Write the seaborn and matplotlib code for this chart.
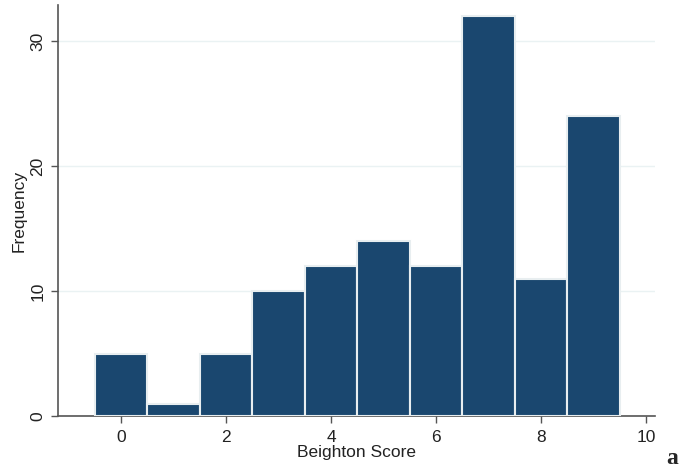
import matplotlib
matplotlib.use("Agg")
import matplotlib.pyplot as plt
import seaborn as sns
import pandas as pd

# Beighton score distribution
scores = [0, 1, 2, 3, 4, 5, 6, 7, 8, 9]
frequency = [5, 1, 5, 10, 12, 14, 12, 32, 11, 24]
x_ticks = [0, 2, 4, 6, 8, 10]
y_ticks = [0, 10, 20, 30]

df = pd.DataFrame({"score": scores, "freq": frequency})

sns.set_theme(style="white")
plt.rcParams["font.family"] = ["Liberation Sans", "DejaVu Sans"]

fig = plt.figure(figsize=(6.81, 4.71), dpi=100)
ax = fig.add_axes([58 / 681, 55 / 471, 597 / 681, 411 / 471])

sns.histplot(data=df, x="score", weights="freq", discrete=True, ax=ax,
             color="#1a476f", alpha=1.0, edgecolor="#e8eef0", linewidth=1.5,
             zorder=3)

ax.set_xlim(-1.2, 10.17)
ax.set_ylim(0, 32.9)
ax.set_xticks(x_ticks)
ax.set_yticks(y_ticks)
ax.set_yticklabels([str(v) for v in y_ticks], rotation=90, va="center")
ax.grid(axis="y", color="#eaf2f3", linewidth=1.0, zorder=0)
ax.grid(axis="x", visible=False)

for side in ["top", "right"]:
    ax.spines[side].set_visible(False)
for side in ["left", "bottom"]:
    ax.spines[side].set_color("#555555")
    ax.spines[side].set_linewidth(1.2)

ax.tick_params(axis="both", which="major", direction="out", length=5,
               width=1.0, color="#555555", labelsize=12.5, labelcolor="#222222",
               bottom=True, left=True)
ax.tick_params(axis="x", pad=5)
ax.tick_params(axis="y", pad=4)
ax.set_xlabel("Beighton Score", fontsize=12.5, color="#222222", labelpad=0)
ax.set_ylabel("Frequency", fontsize=12.5, color="#222222", labelpad=3)

fig.text(672 / 681, 13 / 471, "a", family=["Liberation Serif", "DejaVu Serif"],
         fontweight="bold", fontsize=17, ha="center", va="center")

fig.savefig("out.png", dpi=100, facecolor="white")
